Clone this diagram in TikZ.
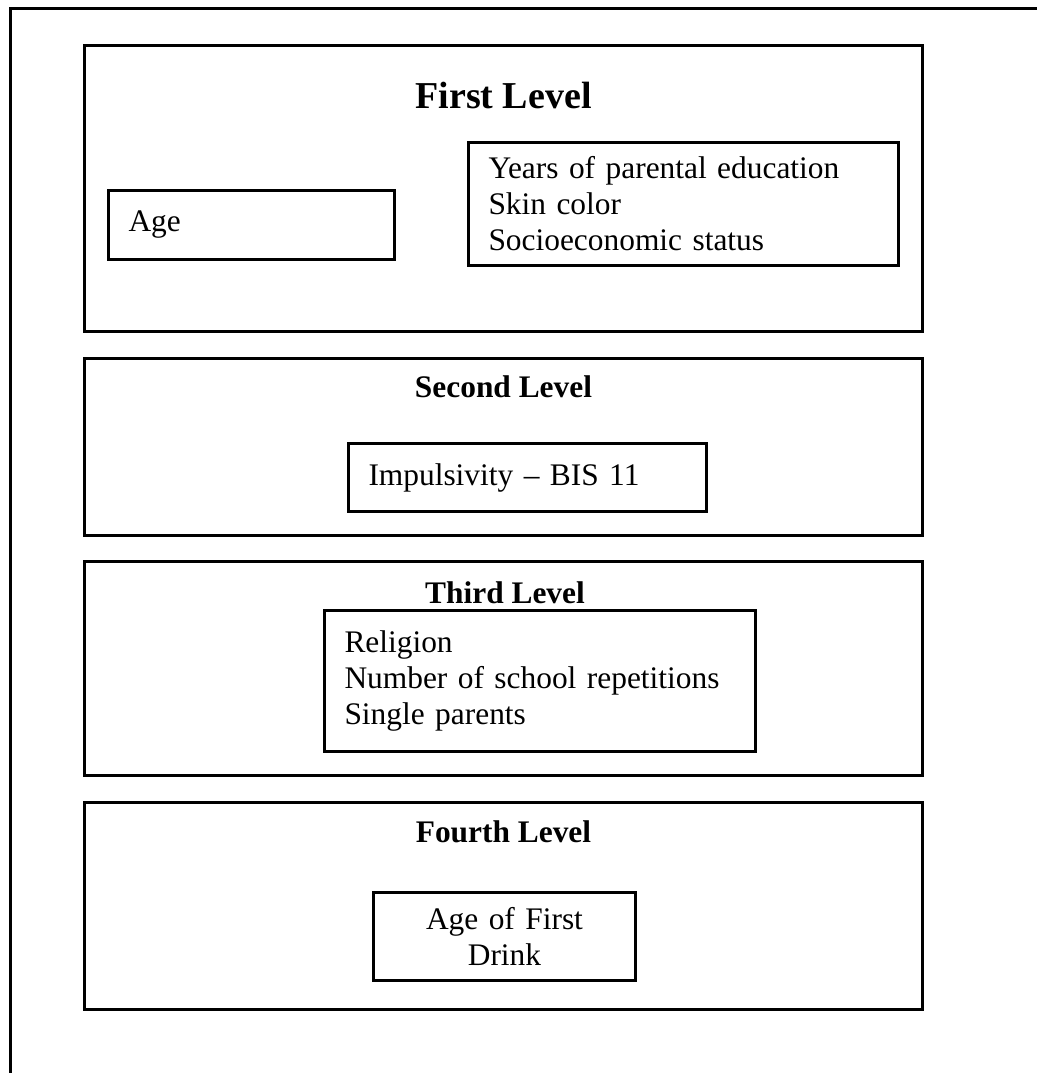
\documentclass[tikz,border=0pt]{standalone}
\usepackage{fontspec}
\setmainfont{Liberation Serif}
\begin{document}
\begin{tikzpicture}[x=0.5pt, y=-0.5pt, line width=1.5pt, font=\fontsize{15.7}{18}\selectfont,
  levelbox/.style={draw, minimum width=419pt, inner sep=0pt},
  itembox/.style={draw, align=left, inner xsep=10pt, inner ysep=0pt},
  leveltitle/.style={font=\fontsize{15.7}{18}\selectfont\bfseries, anchor=base}]
  \useasboundingbox (0,0) rectangle (1037,1073);
  \draw (10,1073) -- (10,8) -- (1037,8);
  % levels
  \node[levelbox, minimum height=143pt] (lvA) at (503.5,188.5) {};
  \node[levelbox, minimum height=88.5pt] (lvB) at (503.5,447) {};
  \node[levelbox, minimum height=107pt] (lvC) at (503.5,668.5) {};
  \node[levelbox, minimum height=103.5pt] (lvD) at (503.5,906) {};
  \node[leveltitle, font=\fontsize{19}{22}\selectfont\bfseries] (tA) at (503.5,108) {First Level};
  \node[leveltitle] (tB) at (503.5,397) {Second Level};
  \node[leveltitle] (tC) at (505,603) {Third Level};
  \node[leveltitle] (tD) at (503.5,842) {Fourth Level};
  % variables
  \node[itembox, text width=123pt, minimum height=34.5pt] (age) at (251.5,225) {Age};
  \node[itembox, text width=195pt, minimum height=61.5pt] (ses) at (683.5,204)
    {Years of parental education\\ Skin color\\ Socioeconomic status};
  \node[itembox, text width=159pt, minimum height=34pt] (bis) at (527.5,477.5) {Impulsivity -- BIS 11};
  \node[itembox, text width=195.5pt, minimum height=70.5pt] (rel) at (540,681)
    {Religion\\ Number of school repetitions\\ Single parents};
  \node[itembox, align=center, text width=111pt, minimum height=44pt] (drink) at (504.5,936.5) {Age of First\\ Drink};
\end{tikzpicture}
\end{document}
